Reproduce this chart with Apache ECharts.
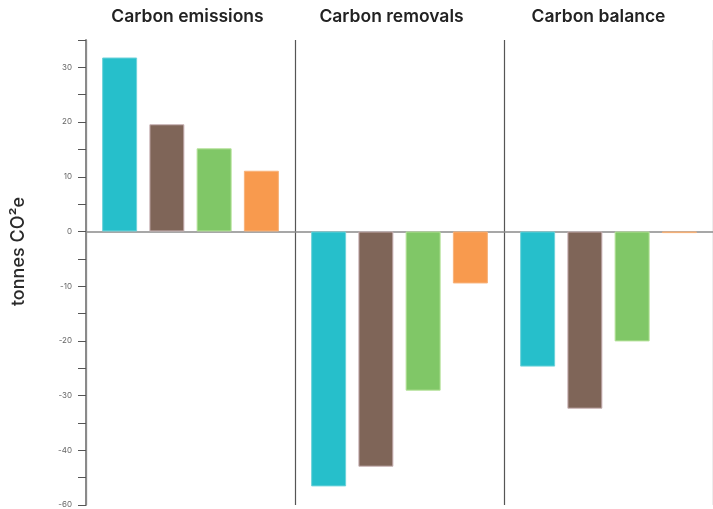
<!DOCTYPE html>
<html>
<head>
<meta charset="utf-8">
<script src="https://cdn.jsdelivr.net/npm/echarts@6/dist/echarts.min.js"></script>
<style>
  html, body { margin: 0; padding: 0; background: #fff; }
  #chart { width: 713px; height: 509px; }
</style>
</head>
<body>
<div id="chart"></div>
<script>
const categories = ["Carbon emissions", "Carbon removals", "Carbon balance"];
const seriesNames = ["Series 1", "Series 2", "Series 3", "Series 4"];
const tealValues = [31.8, -46.6, -24.7];
const brownValues = [19.6, -43.0, -32.4];
const greenValues = [15.2, -29.1, -20.1];
const orangeValues = [11.1, -9.5, -0.3];
const yTickValues = [30, 20, 10, 0, -10, -20, -30, -40, -50];
const yTickLabels = ["30", "20", "10", "0", "-10", "-20", "-30", "-40", "-60"];

const colors = ["#26bfcb", "#7f6558", "#80c767", "#f89a4e"];
const borders = ["#6fd3db", "#c9b3b5", "#b5e29a", "#f8b27a"];
const allValues = [tealValues, brownValues, greenValues, orangeValues];
// headings sit a little left of the category centres in the original
const titleShift = [3, 8, 10];

const chart = echarts.init(document.getElementById("chart"), null, { renderer: "canvas" });

const option = {
  animation: false,
  grid: { left: 86, right: 0, top: 40, bottom: 4, containLabel: false },
  xAxis: [
    {
      type: "category",
      data: categories,
      axisLine: { onZero: true, lineStyle: { color: "#8a8a8a", width: 1.5 } },
      axisTick: { show: false },
      axisLabel: { show: false },
      splitLine: { show: true, lineStyle: { color: "#555", width: 1.2 } },
    },
    {
      type: "category",
      data: categories.map((c, i) => ({
        value: c,
        textStyle: { padding: [0, titleShift[i] * 2, 0, 0] },
      })),
      position: "top",
      axisLine: { show: false },
      axisTick: { show: false },
      splitLine: { show: false },
      axisLabel: {
        margin: 14,
        fontFamily: "Inter",
        fontWeight: 600,
        fontSize: 17.5,
        color: "#222",
      },
    },
  ],
  yAxis: {
    type: "value",
    min: -50,
    max: 35,
    interval: 5,
    name: "tonnes CO²e",
    nameLocation: "middle",
    nameGap: 58,
    nameTextStyle: {
      fontFamily: "Inter",
      fontWeight: 500,
      fontSize: 18,
      color: "#2a2a2a",
      padding: [0, 0, 0, 42],
    },
    axisLine: { show: true, lineStyle: { color: "#8a8a8a", width: 2 } },
    axisTick: { show: true, length: 8, lineStyle: { color: "#555" } },
    splitLine: { show: false },
    axisLabel: {
      margin: 14,
      fontFamily: "Inter",
      fontSize: 8,
      color: "#666",
      formatter: function (v) {
        const i = yTickValues.indexOf(v);
        return i >= 0 ? yTickLabels[i] : "";
      },
    },
  },
  series: allValues.map((vals, i) => ({
    name: seriesNames[i],
    type: "bar",
    data: vals,
    barWidth: 35,
    barGap: "35%",
    itemStyle: { color: colors[i], borderColor: borders[i], borderWidth: 1 },
  })),
};

chart.setOption(option);
</script>
</body>
</html>
